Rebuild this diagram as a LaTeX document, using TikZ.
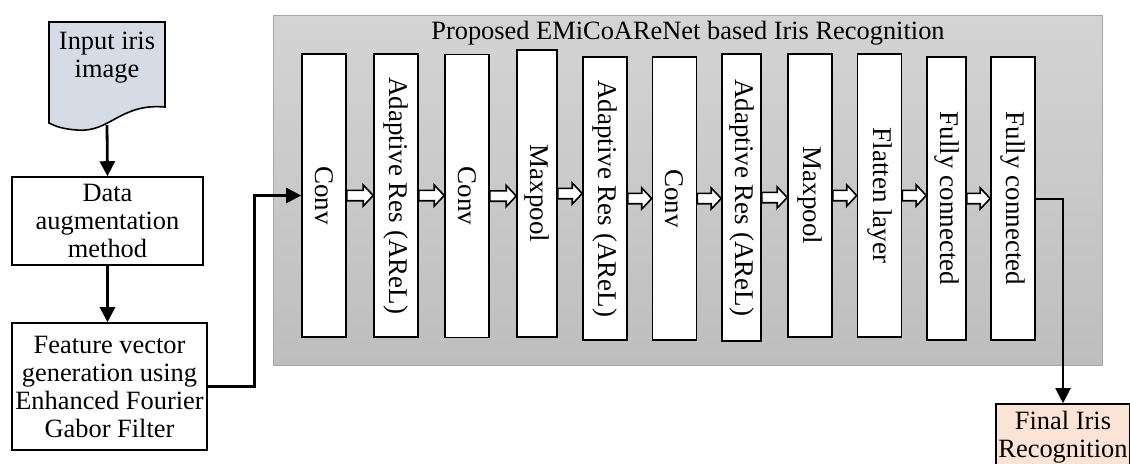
\documentclass[tikz,border=0pt]{standalone}
\usepackage{fontspec}
\setmainfont{Liberation Serif}
\usepackage{graphicx}
\usetikzlibrary{arrows.meta,calc}
\definecolor{irisblue}{RGB}{214,220,229}
\definecolor{irispeach}{RGB}{251,228,213}
\definecolor{paneltop}{RGB}{212,212,212}
\definecolor{panelbot}{RGB}{190,190,190}
\definecolor{panelline}{RGB}{166,166,166}
\tikzset{
  layer/.style={draw, fill=white, line width=0.8pt, minimum width=22pt, minimum height=141.5pt, inner sep=0pt, font=\fontsize{13.5}{14}\selectfont},
  flowbox/.style={draw, fill=white, line width=0.8pt, align=center, inner sep=0pt},
  flowline/.style={line width=1.4pt, -{Triangle[width=7.5pt,length=7.5pt]}},
  hollow/.style={draw, fill=white, line width=0.8pt}
}
\newcommand{\vtext}[1]{\rotatebox{-90}{#1}}

\begin{document}
\begin{tikzpicture}[x=0.5pt, y=-0.5pt, every node/.style={font=\fontsize{13.2}{14}\selectfont}]
                \useasboundingbox (0,0) rectangle (1130,463);

                % Network panel
                \draw[panelline, top color=paneltop, bottom color=panelbot] (273,15) rectangle (1102,365);
                \node (title) at (688,33) {Proposed EMiCoAReNet based Iris Recognition};

                % Input document
                \draw[fill=irisblue, line width=0.8pt] (49,22) -- (165,22) -- (165,107)
                    .. controls (120,103) and (110,133) .. (77,130)
                    .. controls (62,129) and (55,126) .. (49,123) -- cycle;
                \node[align=center] (input) at (107,58) {Input iris\\image};
                \coordinate (inbot) at (107,125);

                % Preprocessing
                \node[flowbox, minimum width=95.5pt, minimum height=44pt] (aug) at (107.5,221) {Data\\augmentation\\method};
                \node[flowbox, minimum width=97.5pt, minimum height=63.5pt] (feat) at (109.5,386.5) {Feature vector\\generation using\\Enhanced Fourier\\Gabor Filter};

                % Layers
                \node[layer] (l1) at (324,195.5) {\vtext{Conv}};
                \node[layer] (l2) at (396,195.5) {\vtext{Adaptive Res (AReL)}};
                \node[layer] (l3) at (467,196) {\vtext{Conv}};
                \node[layer, minimum width=20pt, minimum height=143.5pt] (l4) at (537,193.5) {\vtext{Maxpool}};
                \node[layer] (l5) at (605,198.5) {\vtext{Adaptive Res (AReL)}};
                \node[layer] (l6) at (674.5,198.5) {\vtext{Conv}};
                \node[layer, minimum width=19.5pt, minimum height=143.5pt] (l7) at (741.5,197.5) {\vtext{Adaptive Res (AReL)}};
                \node[layer] (l8) at (810,195.5) {\vtext{Maxpool}};
                \node[layer] (l9) at (879.5,195.5) {\vtext{Flatten layer}};
                \node[layer, minimum width=19.5pt] (l10) at (946.5,198.5) {\vtext{Fully connected}};
                \node[layer] (l11) at (1013,198.5) {\vtext{Fully connected}};

                % Output
                \node[flowbox, fill=irispeach, minimum width=67pt, minimum height=33pt] (final) at (1063,437) {Final Iris\\Recognition};

                % Arrows
                \draw[flowline] (inbot) -- (aug.north);
                \draw[flowline] (aug.south) -- (aug.south |- feat.north);
                \draw[flowline] (feat.east) -- ++(47,0) |- (l1.west);
                \draw[flowline, line width=1pt] (l11.east) -| (final.north);
                \foreach \a/\b in {l1/l2, l2/l3, l3/l4, l4/l5, l5/l6, l6/l7, l7/l8, l8/l9, l9/l10, l10/l11}
                    \draw[hollow] let \p1=(\a.east), \p2=(\b.west) in
                        (\x1,\y1+2.6pt) -- (\x2-5pt,\y1+2.6pt) -- (\x2-5pt,\y1+5.3pt) -- (\x2,\y1)
                        -- (\x2-5pt,\y1-5.3pt) -- (\x2-5pt,\y1-2.6pt) -- (\x1,\y1-2.6pt) -- cycle;
\end{tikzpicture}
\end{document}
